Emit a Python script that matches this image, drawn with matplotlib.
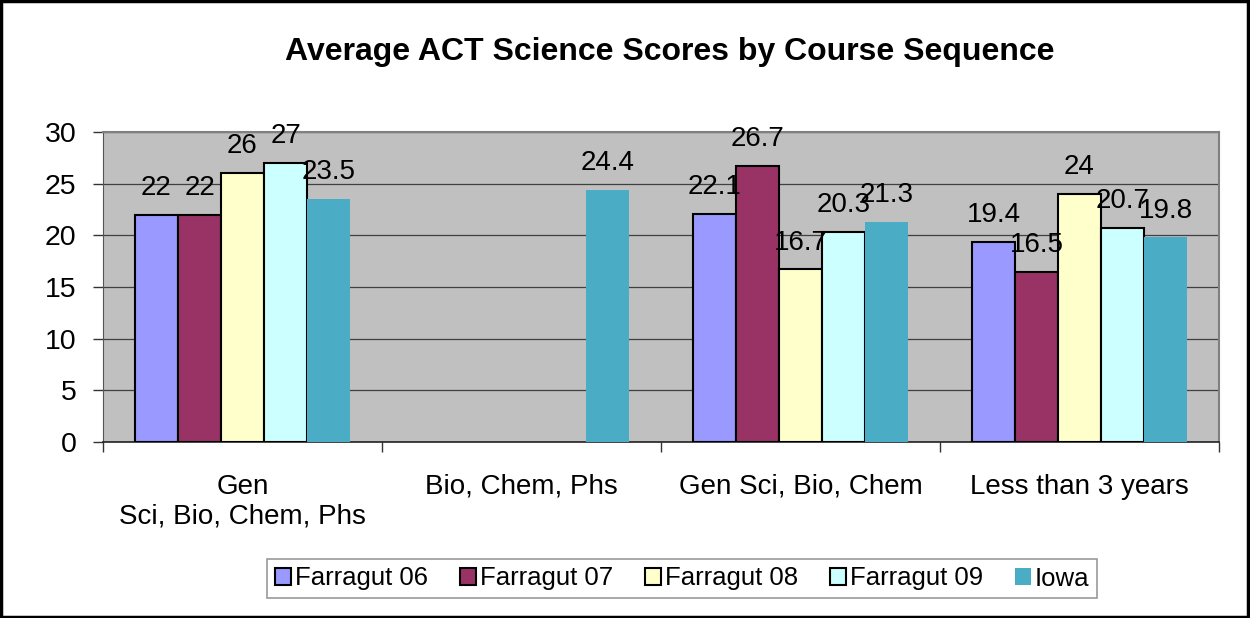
import matplotlib
matplotlib.use("Agg")
import matplotlib.pyplot as plt
import numpy as np
from matplotlib.patches import Rectangle

plt.rcParams["font.family"] = ["Liberation Sans", "DejaVu Sans"]

categories = ["Gen\nSci, Bio, Chem, Phs", "Bio, Chem, Phs", "Gen Sci, Bio, Chem", "Less than 3 years"]
series_names = ["Farragut 06", "Farragut 07", "Farragut 08", "Farragut 09", "Iowa"]
farragut_06 = [22, np.nan, 22.1, 19.4]
farragut_07 = [22, np.nan, 26.7, 16.5]
farragut_08 = [26, np.nan, 16.7, 24]
farragut_09 = [27, np.nan, 20.3, 20.7]
iowa = [23.5, 24.4, 21.3, 19.8]
series_values = [farragut_06, farragut_07, farragut_08, farragut_09, iowa]

COLORS = ["#9999FF", "#993366", "#FFFFCC", "#CCFFFF", "#4BACC6"]
EDGES = ["black", "black", "black", "black", "none"]

fig = plt.figure(figsize=(12.5, 6.18), dpi=100)
ax = fig.add_axes([103 / 1250, 1 - 442 / 618, 1116 / 1250, 310 / 618])
ax.set_facecolor("#C0C0C0")

x = np.arange(len(categories))
w = 43 / 279
for i, (name, vals) in enumerate(zip(series_names, series_values)):
    vals = np.array(vals, dtype=float)
    pos = x + (i - 2) * w
    ok = ~np.isnan(vals)
    bars = ax.bar(pos[ok], vals[ok], width=w, color=COLORS[i], edgecolor=EDGES[i],
                  linewidth=1.5 if EDGES[i] != "none" else 0, label=name, zorder=3)
    for b, v in zip(bars, vals[ok]):
        ax.annotate(f"{v:g}", (b.get_x() + b.get_width() / 2, v), xytext=(0, 10),
                    textcoords="offset points", ha="center", va="bottom",
                    fontsize=20, zorder=5)

ax.set_xlim(-0.5, len(categories) - 0.5)
ax.set_ylim(0, 30)
ax.set_yticks(range(0, 31, 5))
ax.yaxis.grid(True, color="#404040", linewidth=0.9, zorder=1)
ax.set_axisbelow(True)

# category boundaries get the tick marks, labels sit at the centres
ax.set_xticks(np.arange(-0.5, len(categories), 1.0))
ax.set_xticklabels([])
ax.set_xticks(x, minor=True)
ax.set_xticklabels(categories, minor=True, fontsize=20, linespacing=1.2)
ax.tick_params(axis="x", which="major", length=7, width=1, color="#333333", direction="out")
ax.tick_params(axis="x", which="minor", length=0, pad=23)
ax.tick_params(axis="y", length=7, width=1, labelsize=20.5, pad=12, color="#333333")

for s in ["top", "right"]:
    ax.spines[s].set_color("#808080")
    ax.spines[s].set_linewidth(1.5)
ax.spines["left"].set_color("#555555")
ax.spines["bottom"].set_color("#222222")
ax.spines["bottom"].set_linewidth(1.2)

fig.text(670 / 1250, 1 - 52 / 618, "Average ACT Science Scores by Course Sequence",
         ha="center", va="center", fontsize=23, fontweight="bold")

leg = fig.legend(loc="center", bbox_to_anchor=(682 / 1250, 1 - 578.5 / 618), ncol=5,
                 fontsize=18.5, frameon=True, fancybox=False, handlelength=0.62,
                 handleheight=0.62, handletextpad=0.15, columnspacing=1.25,
                 borderpad=0.3, borderaxespad=0, edgecolor="#808080")
leg.get_frame().set_linewidth(1.2)

fig.patches.append(Rectangle((0.001, 0.002), 0.997, 0.996, transform=fig.transFigure,
                             fill=False, edgecolor="black", linewidth=2.5))

fig.savefig("out.png", dpi=100)
